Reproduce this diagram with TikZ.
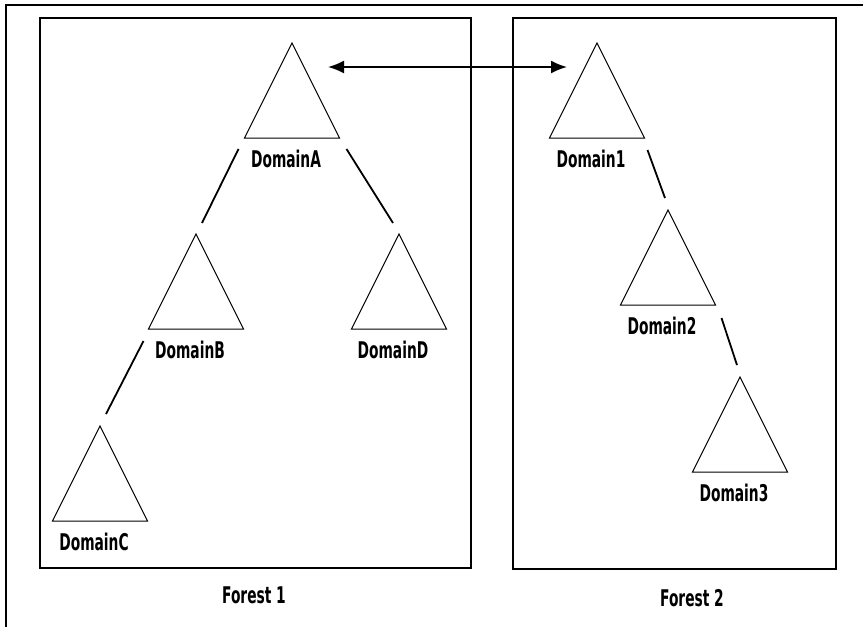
\documentclass[tikz,border=0pt]{standalone}
\usepackage{fontspec}
\setmainfont{DejaVu Sans}
\usetikzlibrary{calc,arrows.meta}
\newcommand{\narrow}[1]{\scalebox{0.6}[1]{#1}}
\tikzset{
    tree-label/.style = {font=\fontsize{11.5}{13}\selectfont\bfseries, inner sep=0pt},
    forest-box/.style = {draw, line width=0.9pt},
    tree-link/.style = {line width=0.9pt},
    domain/.pic = {
        \draw[line width=0.5pt] (0,0) coordinate (-apex) -- (-47.5,95) coordinate (-bl)
            -- (47.5,95) coordinate (-br) -- cycle;
        \node[tree-label] (-lbl) at (-6,116) {\narrow{#1}};
    },
}
\begin{document}
\begin{tikzpicture}[x=0.5pt,y=-0.5pt]
\useasboundingbox (0,0) rectangle (863,627);
\clip (0,0) rectangle (863,627);
\draw[line width=1pt] (6,5) rectangle (900,660);
% forests
\draw[forest-box] (40,18) rectangle (471,568);
\draw[forest-box] (513,18) rectangle (836,569);
\node[tree-label] (forest1) at (254,595) {\narrow{Forest 1}};
\node[tree-label] (forest2) at (692,598) {\narrow{Forest 2}};
% domains
\pic (A) at (292,43) {domain={DomainA}};
\pic (B) at (196,234) {domain={DomainB}};
\pic (C) at (100,426) {domain={DomainC}};
\pic (D) at (399,234) {domain={DomainD}};
\pic (one) at (597,43) {domain={Domain1}};
\pic (two) at (668,210) {domain={Domain2}};
\pic (three) at (740,377) {domain={Domain3}};
% links
\draw[tree-link] ($(A-bl)+(-6,11)$) -- ($(B-apex)+(6,-11)$);
\draw[tree-link] ($(A-br)+(7,11)$) -- ($(D-apex)+(-6,-11)$);
\draw[tree-link] ($(B-bl)+(-5,12)$) -- ($(C-apex)+(6,-12)$);
\draw[tree-link] ($(one-br)+(3,12)$) -- ($(two-apex)+(-3,-12)$);
\draw[tree-link] ($(two-br)+(6,13)$) -- ($(three-apex)+(-3,-12)$);
% trust
\draw[tree-link, {Latex[length=8pt,width=6.5pt]}-{Latex[length=8pt,width=6.5pt]}]
    ($(A-apex)+(36,24)$) -- ($(one-apex)+(-30,24)$);
\end{tikzpicture}
\end{document}
